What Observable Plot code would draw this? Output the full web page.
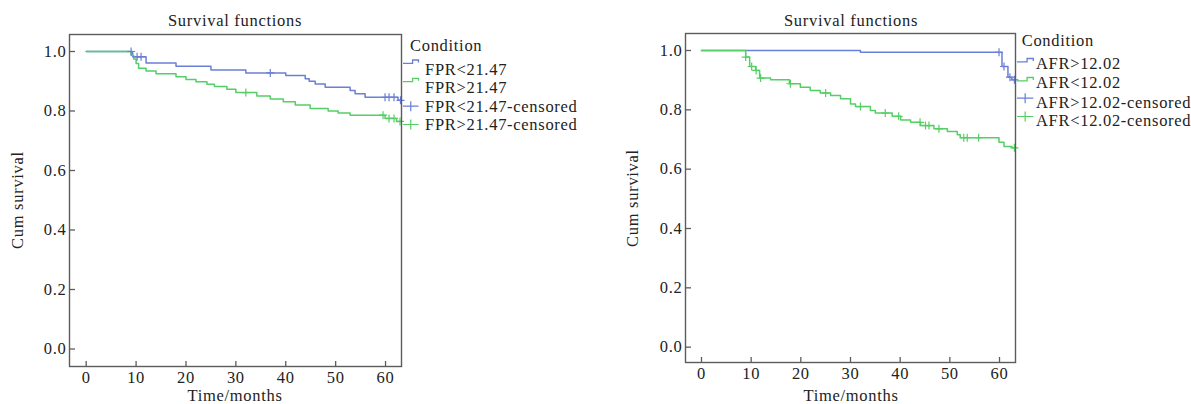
<!DOCTYPE html>
<html><head><meta charset="utf-8">
<script src="https://cdn.jsdelivr.net/npm/d3@7"></script>
<script src="https://cdn.jsdelivr.net/npm/@observablehq/plot@0.6"></script>
<style>
body{margin:0;background:#fff;}
#wrap{position:relative;width:1191px;height:404px;overflow:hidden;font-family:"Liberation Serif",serif;color:#222;}
.panel{position:absolute;top:0;}
.panel svg text{letter-spacing:0.7px;}
.lab{position:absolute;font-size:16.5px;letter-spacing:0.7px;white-space:nowrap;line-height:1;}
#overlay{position:absolute;left:0;top:0;pointer-events:none;}
#overlay text{font-family:"Liberation Serif",serif;font-size:16.5px;letter-spacing:0.7px;fill:#222;}
</style></head>
<body><div id="wrap"></div>
<script>
// ---------- data ----------
const xTicks = [0, 10, 20, 30, 40, 50, 60];
const yTicks = [0, 0.2, 0.4, 0.6, 0.8, 1.0];
const titleText = "Survival functions";
const xLabel = "Time/months";
const yLabel = "Cum survival";
const legendTitle = "Condition";

// Left panel: FPR
const fprLabels = ["FPR<21.47", "FPR>21.47", "FPR<21.47-censored", "FPR>21.47-censored"];
const fprLowT = [0, 9.3, 12, 18, 25, 32, 40, 43.9, 44.7, 45.9, 47.9, 52.9, 53.9, 55.9, 62.5, 63];
const fprLowS = [1, 0.982, 0.961, 0.95, 0.938, 0.928, 0.919, 0.908, 0.9, 0.891, 0.88, 0.869, 0.858, 0.846, 0.836, 0.836];
const fprLowCensT = [9, 10.2, 11, 36.9, 59.9, 60.7, 61.7, 63];
const fprLowCensS = [1, 0.982, 0.982, 0.928, 0.846, 0.846, 0.846, 0.836];
const fprHighT = [0, 9.0, 9.5, 10.0, 10.5, 12, 14, 18, 20, 22, 24.2, 25.7, 28.2, 30, 34.2, 36.9, 39.5, 41.9, 44.9, 48.5, 50.5, 52.9, 59.9, 62.2, 63];
const fprHighS = [1, 0.987, 0.975, 0.96, 0.944, 0.934, 0.925, 0.915, 0.906, 0.898, 0.89, 0.882, 0.873, 0.862, 0.85, 0.84, 0.831, 0.82, 0.808, 0.8, 0.793, 0.786, 0.775, 0.765, 0.765];
const fprHighCensT = [32, 59.5, 60.7, 61.7, 62.9];
const fprHighCensS = [0.862, 0.786, 0.775, 0.775, 0.765];

// Right panel: AFR
const afrLabels = ["AFR>12.02", "AFR<12.02", "AFR>12.02-censored", "AFR<12.02-censored"];
const afrHighT = [0, 32, 60.5, 61.7, 62.5, 63];
const afrHighS = [1, 0.994, 0.946, 0.91, 0.901, 0.901];
const afrHighCensT = [59.9, 60.9, 62.1, 63];
const afrHighCensS = [0.994, 0.946, 0.91, 0.901];
const afrLowT = [0, 8.9, 9.7, 10.9, 11.7, 13.9, 17.7, 19.9, 21.9, 23.9, 26.0, 28.0, 30.0, 31.0, 34.0, 35.0, 38.4, 40.1, 42.1, 44.1, 46.8, 49.5, 51.5, 52.1, 59.9, 60.9, 62.5, 63];
const afrLowS = [1, 0.978, 0.946, 0.933, 0.907, 0.901, 0.888, 0.876, 0.865, 0.857, 0.848, 0.837, 0.82, 0.811, 0.798, 0.789, 0.778, 0.766, 0.758, 0.747, 0.736, 0.727, 0.716, 0.706, 0.691, 0.676, 0.672, 0.672];
const afrLowCensT = [8.9, 10.1, 11.0, 11.9, 17.9, 25, 32, 37, 39.7, 44.0, 45.1, 45.8, 47.8, 52.8, 53.5, 55.8, 63];
const afrLowCensS = [0.978, 0.946, 0.933, 0.907, 0.888, 0.857, 0.811, 0.789, 0.778, 0.758, 0.747, 0.747, 0.736, 0.706, 0.706, 0.706, 0.672];

// ---------- style ----------
const BLUE = "#6a7fd6";
const GREEN = "#55cf65";
const FRAME = "#5c5c5c";

const toRows = (T, S) => T.map((t, i) => ({t, s: S[i]}));

function panel(cfg) {
  const fw = cfg.width - cfg.marginLeft - cfg.marginRight;
  const fh = 404 - cfg.marginTop - cfg.marginBottom;
  const p = Plot.plot({
    width: cfg.width, height: 404,
    marginLeft: cfg.marginLeft, marginRight: cfg.marginRight,
    marginTop: cfg.marginTop, marginBottom: cfg.marginBottom,
    x: {domain: cfg.xDomain},
    y: {domain: cfg.yDomain},
    style: {fontFamily: "Liberation Serif, serif", fontSize: "16.5px", color: "#222", background: "transparent", overflow: "visible"},
    marks: [
      Plot.axisX(xTicks, {tickSize: 0, tickPadding: 5, label: null, fontSize: 16.5}),
      Plot.axisY(yTicks, {tickSize: 0, tickPadding: 3, label: null, fontSize: 16.5, tickFormat: d3.format(".1f")}),
      Plot.tickX(xTicks, {x: d => d, insetTop: fh - 5, stroke: FRAME, strokeWidth: 1.3}),
      Plot.tickY(yTicks, {y: d => d, insetRight: fw - 6, stroke: FRAME, strokeWidth: 1.3}),
      Plot.line(cfg.lineA, {x: "t", y: "s", curve: "step-after", stroke: cfg.colorA, strokeWidth: 1.5}),
      Plot.line(cfg.lineB, {x: "t", y: "s", curve: "step-after", stroke: cfg.colorB, strokeWidth: 1.5}),
      Plot.dot(cfg.censA, {x: "t", y: "s", symbol: "plus", r: 2.7, stroke: cfg.colorA, strokeWidth: 1.2}),
      Plot.dot(cfg.censB, {x: "t", y: "s", symbol: "plus", r: 2.7, stroke: cfg.colorB, strokeWidth: 1.2}),
      Plot.frame({stroke: FRAME, strokeWidth: 1.4})
    ]
  });
  const div = document.createElement("div");
  div.className = "panel";
  div.style.left = cfg.left + "px";
  div.appendChild(p);
  return div;
}

const wrap = document.getElementById("wrap");

wrap.appendChild(panel({
  left: 0, width: 595, marginLeft: 69, marginRight: 194, marginTop: 34, marginBottom: 38,
  xDomain: [-3.35, 63.2], yDomain: [-0.0588, 1.0571],
  lineA: toRows(fprLowT, fprLowS), lineB: toRows(fprHighT, fprHighS),
  censA: toRows(fprLowCensT, fprLowCensS), censB: toRows(fprHighCensT, fprHighCensS),
  colorA: BLUE, colorB: GREEN
}));

wrap.appendChild(panel({
  left: 595, width: 596, marginLeft: 90, marginRight: 176, marginTop: 33, marginBottom: 42,
  xDomain: [-3.22, 63.22], yDomain: [-0.0517, 1.0573],
  lineA: toRows(afrHighT, afrHighS), lineB: toRows(afrLowT, afrLowS),
  censA: toRows(afrHighCensT, afrHighCensS), censB: toRows(afrLowCensT, afrLowCensS),
  colorA: BLUE, colorB: GREEN
}));

// ---------- titles and axis labels ----------
function addLabel(text, x, y, rotate) {
  const d = document.createElement("div");
  d.className = "lab";
  d.textContent = text;
  d.style.left = x + "px";
  d.style.top = y + "px";
  d.style.transform = "translate(-50%,-50%)" + (rotate ? " rotate(-90deg)" : "");
  wrap.appendChild(d);
}
addLabel(titleText, 235, 21);
addLabel(titleText, 851, 21);
addLabel(xLabel, 235, 395.5);
addLabel(xLabel, 851, 395.5);
addLabel(yLabel, 18, 200, true);
addLabel(yLabel, 633, 198, true);

// ---------- legends ----------
const svg = d3.select(wrap).append("svg").attr("id", "overlay").attr("width", 1191).attr("height", 404);
function legend(cfg) {
  const g = svg.append("g");
  g.append("text").attr("x", cfg.titleX).attr("y", cfg.titleBase).text(legendTitle);
  cfg.labels.forEach((lab, i) => {
    const base = cfg.bases[i];
    const color = i % 2 === 0 ? BLUE : GREEN;
    g.append("text").attr("x", cfg.textX).attr("y", base).text(lab);
    const x0 = cfg.glyphX0, x1 = cfg.glyphX1;
    if (i < 2) {
      const lo = base - cfg.stepLo, hi = lo - 3.3;
      const xm = x0 + (x1 - x0) * 0.62;
      g.append("path").attr("fill", "none").attr("stroke", color).attr("stroke-width", 1.3)
        .attr("d", `M${x0},${lo}H${xm}V${hi}H${x1}V${hi + 2.5}`);
    } else {
      const yy = base - cfg.plusOff;
      const xm = (x0 + x1) / 2;
      g.append("path").attr("fill", "none").attr("stroke", color).attr("stroke-width", 1.2)
        .attr("d", `M${x0},${yy}H${x1}M${xm},${yy - 5}V${yy + 5}`);
    }
  });
}
legend({labels: fprLabels, titleX: 410, titleBase: 50.7, textX: 425, bases: [75, 93.3, 111.7, 130],
  glyphX0: 403, glyphX1: 418.5, stepLo: 11.7, plusOff: 5.5});
legend({labels: afrLabels, titleX: 1021.7, titleBase: 46, textX: 1036, bases: [69.3, 88.3, 107.7, 126],
  glyphX0: 1017, glyphX1: 1033.3, stepLo: 7.5, plusOff: 9.5});
</script>
</body></html>
